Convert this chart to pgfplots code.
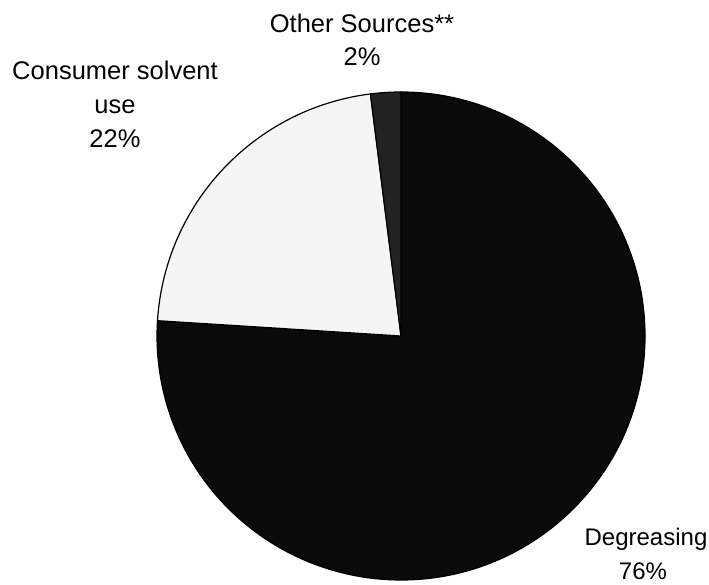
\documentclass[border=0pt]{standalone}
\usepackage{fontspec}
\setmainfont{Liberation Sans}
\usepackage{pgfplots}
\pgfplotsset{compat=1.18}
\definecolor{cDeg}{HTML}{0A0A0A}
\definecolor{cCons}{HTML}{F5F5F5}
\definecolor{cOther}{HTML}{222222}
\newcommand{\lblfont}{\fontsize{25.5bp}{30bp}\selectfont}
\newcommand{\lblfontsm}{\fontsize{24bp}{30bp}\selectfont}
\tikzset{lbl/.style={font=\lblfont, inner sep=0pt, anchor=base},
         lblsm/.style={font=\lblfontsm, inner sep=0pt, anchor=base}}

\begin{document}
\begin{tikzpicture}
% shares in percent, clockwise from 12 o'clock
\def\pDeg{76}
\def\pCons{22}
\def\pOther{2}
\pgfmathsetmacro{\aA}{90}
\pgfmathsetmacro{\aB}{\aA-3.6*\pDeg}
\pgfmathsetmacro{\aC}{\aB-3.6*\pCons}
\pgfmathsetmacro{\aD}{\aC-3.6*\pOther}
\begin{axis}[
    hide axis,
    scale only axis,
    width=709bp, height=585bp,
    xmin=0, xmax=709, ymin=0, ymax=585,
    clip=false,
]
% keep the full frame in the bounding box
\path (rel axis cs:0,0) -- (rel axis cs:1,1);
\fill[cDeg, draw=black, line width=1.2bp]
    (axis cs:401,249) -- (axis cs:{401+244*cos(\aA)},{249+244*sin(\aA)})
    arc[start angle=\aA, end angle=\aB, radius=244bp] -- cycle;
\fill[cCons, draw=black, line width=1.2bp]
    (axis cs:401,249) -- (axis cs:{401+244*cos(\aB)},{249+244*sin(\aB)})
    arc[start angle=\aB, end angle=\aC, radius=244bp] -- cycle;
\fill[cOther, draw=black, line width=1.2bp]
    (axis cs:401,249) -- (axis cs:{401+244*cos(\aC)},{249+244*sin(\aC)})
    arc[start angle=\aC, end angle=\aD, radius=244bp] -- cycle;

\node[lbl] at (axis cs:362,552) {Other Sources**};
\node[lbl] at (axis cs:362,519) {\pOther\%};
\node[lbl] at (axis cs:115,505) {Consumer solvent};
\node[lbl] at (axis cs:115,471) {use};
\node[lbl] at (axis cs:115,437) {\pCons\%};
\node[lblsm] at (axis cs:646,39) {Degreasing};
\node[lblsm] at (axis cs:643,6) {\pDeg\%};
\end{axis}
\end{tikzpicture}
\end{document}
